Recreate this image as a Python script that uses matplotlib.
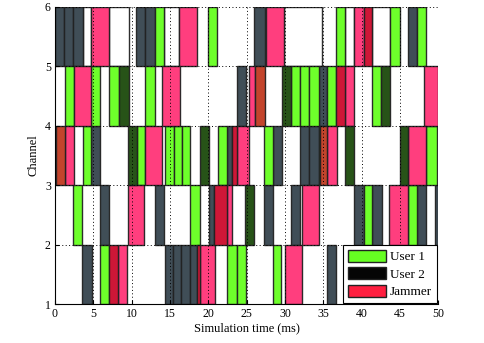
import matplotlib
matplotlib.use('Agg')
import matplotlib.pyplot as plt
from matplotlib.patches import Patch

plt.rcParams['font.family'] = ['Liberation Serif', 'DejaVu Serif']

# (channel, start ms, end ms)
user1 = [(5,13.04,14.21),(5,20.0,21.2),(5,36.65,37.9),(5,43.7,44.96),(5,47.3,48.4),
         (4,1.26,2.44),(4,4.74,5.9),(4,7.09,8.3),(4,11.78,13.0),(4,30.8,32.0),(4,32.0,33.2),
         (4,33.2,34.4),(4,35.5,36.65),(4,41.4,42.6),
         (3,3.6,4.74),(3,10.7,11.8),(3,14.3,15.5),(3,15.5,16.6),(3,16.6,17.65),(3,21.3,22.5),
         (3,27.3,28.4),(3,34.4,34.6),(3,48.4,49.8),
         (2,2.3,3.5),(2,17.65,18.96),(2,40.3,41.4),(2,46.1,47.3),
         (1,5.9,7.09),(1,22.5,23.7),(1,23.7,24.9),(1,28.4,29.5)]
user2 = [(5,0,1.2),(5,1.2,2.4),(5,2.4,3.6),(5,10.57,11.78),(5,11.78,13.04),(5,26.0,27.4),(5,46.1,47.3),
         (4,23.7,24.96),(4,34.4,35.5),
         (3,4.74,5.9),(3,22.5,23.1),(3,28.4,29.6),(3,32.0,33.2),(3,33.2,34.4),
         (2,5.9,7.09),(2,13.04,14.2),(2,20.1,20.8),(2,27.3,28.4),(2,30.8,32.0),(2,39.0,40.3),
         (2,41.4,42.65),(2,47.3,48.4),(2,49.65,50),
         (1,3.5,4.8),(1,14.3,15.35),(1,15.35,16.5),(1,16.5,17.65),(1,17.65,18.5),(1,35.5,36.65)]
jammer = [(5,4.74,7.09),(5,16.13,18.5),(5,27.6,29.9),(5,39.0,40.3),
          (4,2.44,4.74),(4,13.96,16.26),(4,25.3,26.1),(4,37.9,39.0),(4,48.2,50),
          (3,1.26,2.44),(3,11.8,13.96),(3,23.7,25.26),(3,35.5,36.8),(3,46.1,48.4),
          (2,9.5,11.6),(2,22.5,23.1),(2,32.2,34.5),(2,43.65,46.1),
          (1,8.2,9.4),(1,18.96,20.9),(1,29.95,32.2)]
# overlapping transmissions
u1_u2 = [(4,8.3,9.6),(4,29.6,30.8),(4,42.6,43.7),
         (3,9.5,10.7),(3,18.96,20.1),(3,37.9,39.0),(3,45.0,46.1),
         (2,24.8,26.0)]
jam_u2 = [(5,40.3,41.4),(4,36.65,37.9),(3,23.1,23.7),(2,20.8,22.5),(1,7.09,8.2),(1,18.5,18.96)]
jam_u1 = [(4,26.1,27.4),(3,0.13,1.26),(3,34.6,35.5)]
idle = [(5,3.6,4.74),(5,7.09,9.6),(5,14.21,16.13),(5,29.9,34.9),(5,37.9,39.0),(5,41.4,43.7)]

colors = {'idle':'white','u1':'#66ff1f','u2':'#36444e','jam':'#ff3377',
          'u1u2':'#1b4a0b','jamu2':'#cc0a2c','jamu1':'#c03a20'}

fig = plt.figure(figsize=(4.85,3.43), dpi=100)
ax = fig.add_axes([0.1134, 0.113, 0.79, 0.867])

for data, key in [(idle,'idle'),(user2,'u2'),(user1,'u1'),(jammer,'jam'),
                  (u1_u2,'u1u2'),(jam_u2,'jamu2'),(jam_u1,'jamu1')]:
    for ch, t0, t1 in data:
        ax.bar(t0, 1, width=t1-t0, bottom=ch, align='edge', color=colors[key],
               edgecolor='#222222', linewidth=1.0, alpha=0.95, zorder=1)

ax.set_xlim(0,50); ax.set_ylim(1,6)
ax.set_xticks(range(0,51,5)); ax.set_yticks(range(1,7))
ax.grid(True, color='black', linestyle=(0,(1,2.5)), linewidth=0.7)
ax.set_axisbelow(False)
ax.spines['top'].set_visible(False); ax.spines['right'].set_visible(False)
ax.tick_params(direction='in', length=3, labelsize=8.5, pad=3)
ax.set_xlabel('Simulation time (ms)', fontsize=9, labelpad=1)
ax.set_ylabel('Channel', fontsize=9, labelpad=4)

handles = [Patch(facecolor='#66ff22', edgecolor='#222222', label='User 1'),
           Patch(facecolor='#050505', edgecolor='#222222', label='User 2'),
           Patch(facecolor='#ff1f40', edgecolor='#222222', label='Jammer')]
leg = ax.legend(handles=handles, loc='lower right', fontsize=9.5, fancybox=False,
                framealpha=1, edgecolor='black', handlelength=2.9, handleheight=1.05,
                borderpad=0.35, labelspacing=0.3, handletextpad=0.3, borderaxespad=0.1)
leg.get_frame().set_linewidth(0.8)
leg.set_zorder(5)

fig.savefig('out.png', dpi=100)
